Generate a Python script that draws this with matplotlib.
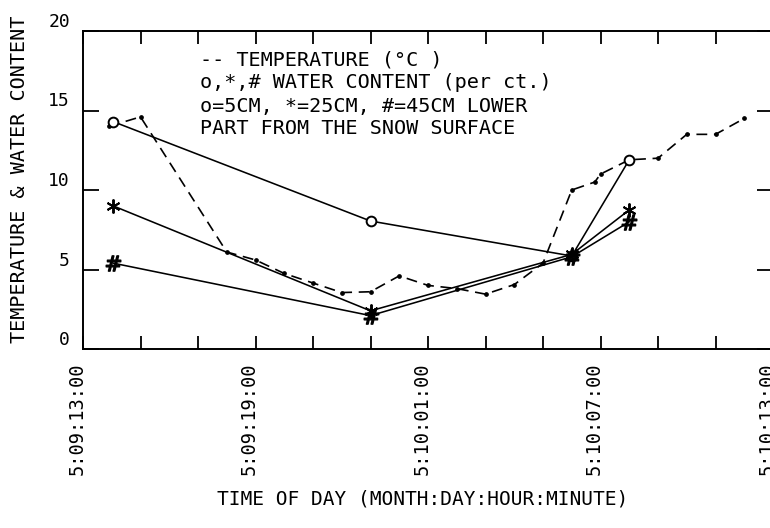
import matplotlib
matplotlib.use('Agg')
import matplotlib.pyplot as plt
from matplotlib.transforms import ScaledTranslation

plt.rcParams['font.family'] = ['DejaVu Sans Mono', 'DejaVu Sans']

# ---- data (hours after 5/09 13:00) ----
temp_hours = [0.9, 2, 5, 6, 7, 8, 9, 10, 11, 12, 13, 14, 15, 16, 17, 17.8, 18, 19, 20, 21, 22, 23]
temp_values = [14.0, 14.6, 6.1, 5.6, 4.75, 4.15, 3.55, 3.6, 4.6, 4.0, 3.8, 3.45, 4.05, 5.4,
               10.0, 10.5, 11.0, 11.9, 12.0, 13.5, 13.5, 14.5]

water_hours = [1.05, 10, 17, 19]
wc_5cm = [14.3, 8.05, 5.85, 11.9]
wc_25cm = [9.0, 2.4, 5.95, 8.75]
wc_45cm = [5.4, 2.1, 5.8, 8.0]

tick_hours = [0, 6, 12, 18, 24]
tick_labels = ['5:09:13:00', '5:09:19:00', '5:10:01:00', '5:10:07:00', '5:10:13:00']
minor_hours = [2, 4, 8, 10, 14, 16, 20, 22]
y_ticks = [0, 5, 10, 15, 20]

legend_lines = ['-- TEMPERATURE (\u00b0C )',
                'o,*,# WATER CONTENT (per ct.)',
                'o=5CM, *=25CM, #=45CM LOWER',
                'PART FROM THE SNOW SURFACE']

W, H = 770, 528
fig = plt.figure(figsize=(W / 100, H / 100), dpi=100)
left, right, top, bottom = 83, 773, 31, 349
ax = fig.add_axes([left / W, 1 - bottom / H, (right - left) / W, (bottom - top) / H])

ax.plot(temp_hours, temp_values, color='black', lw=1.2, dashes=(6.5, 4),
        marker='o', ms=2.4, mfc='black', mec='black', zorder=2)
ax.plot(water_hours, wc_5cm, color='black', lw=1.15, marker='o', ms=7,
        mfc='white', mec='black', mew=1.4, zorder=3)
ax.plot(water_hours, wc_25cm, color='black', lw=1.15, marker=(6, 2, 0), ms=10,
        mew=1.4, mec='black', zorder=4)
ax.plot(water_hours, wc_45cm, color='black', lw=1.15, marker=r'$\#$', ms=11,
        mec='black', mfc='black', zorder=4)

ax.set_xlim(0, 24)
ax.set_ylim(0, 20)
ax.set_xticks(tick_hours)
ax.set_xticklabels(tick_labels, rotation=90, ha='right', va='top')
ax.set_xticks(minor_hours, minor=True)
ax.set_yticks(y_ticks)
ax.set_yticklabels([str(v) for v in y_ticks])

ax.tick_params(axis='x', which='both', direction='in', length=9.4, width=1.3,
               top=True, bottom=True, pad=10, labelsize=13.5)
ax.tick_params(axis='y', direction='in', length=11.5, width=1.3,
               left=True, right=True, pad=9.4, labelsize=13)
for lab in ax.get_yticklabels():
    lab.set_va('bottom')
for lab in ax.get_xticklabels():
    lab.set_transform(lab.get_transform() + ScaledTranslation(3.5 / 100, 0, fig.dpi_scale_trans))

for s in ax.spines.values():
    s.set_linewidth(1.4)
    s.set_color('black')

# legend text block
baselines = [65, 88, 112, 134]
for txt, yb in zip(legend_lines, baselines):
    fig.text(200 / W, 1 - yb / H, txt, fontsize=14.5, va='baseline', ha='left')

fig.text(20 / W, 1 - 179 / H, 'TEMPERATURE & WATER CONTENT', rotation=90,
         ha='center', va='center', fontsize=14.5)
fig.text(423 / W, 1 - 499 / H, 'TIME OF DAY (MONTH:DAY:HOUR:MINUTE)',
         ha='center', va='center', fontsize=14)

fig.savefig('out.png', dpi=100)
